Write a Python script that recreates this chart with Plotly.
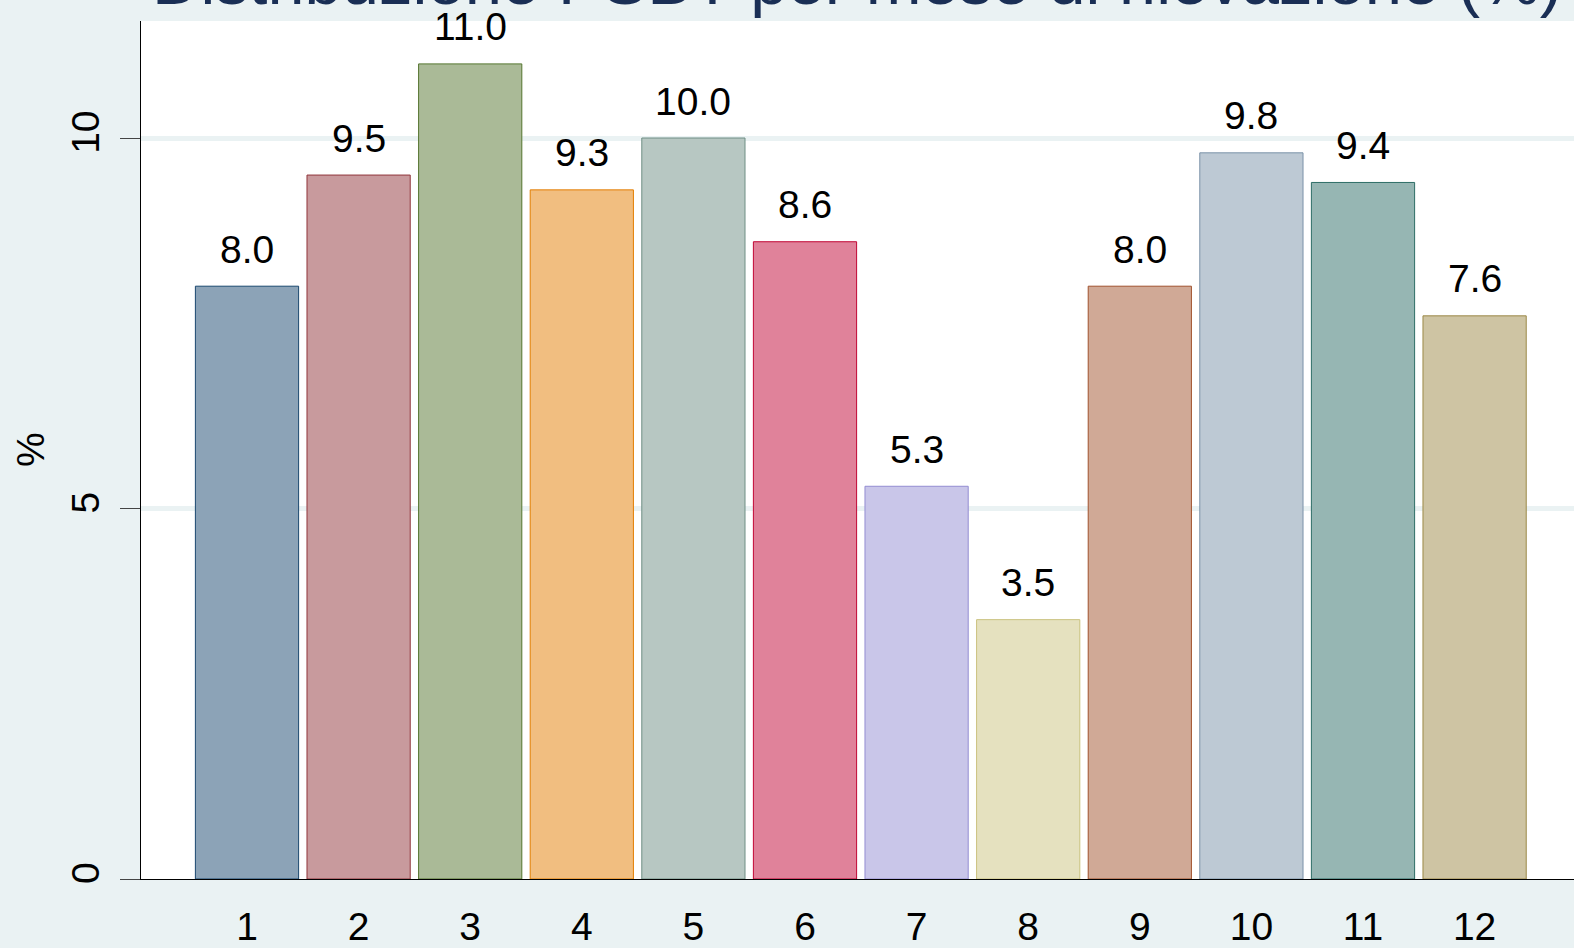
import plotly.graph_objects as go

# Monthly distribution (%)
months = [1, 2, 3, 4, 5, 6, 7, 8, 9, 10, 11, 12]
month_labels = ["1", "2", "3", "4", "5", "6", "7", "8", "9", "10", "11", "12"]
pct = [8.0, 9.5, 11.0, 9.3, 10.0, 8.6, 5.3, 3.5, 8.0, 9.8, 9.4, 7.6]
y_ticks = [0, 5, 10]

title_text = "Distribuzione PSBT per mese di rilevazione (%)"

# Stata s2color palette: full colours for outlines, 50% intensity fills
line_colors = [
    "rgb(26,71,111)", "rgb(144,53,59)", "rgb(85,117,47)", "rgb(227,126,0)",
    "rgb(110,142,132)", "rgb(193,5,52)", "rgb(147,141,210)", "rgb(202,194,126)",
    "rgb(160,82,45)", "rgb(123,146,168)", "rgb(45,109,102)", "rgb(156,136,71)",
]
fill_colors = [
    "rgb(140,163,183)", "rgb(200,154,157)", "rgb(170,186,151)", "rgb(241,190,128)",
    "rgb(183,199,194)", "rgb(224,130,154)", "rgb(201,198,233)", "rgb(229,225,191)",
    "rgb(208,169,150)", "rgb(189,201,212)", "rgb(150,182,179)", "rgb(206,196,163)",
]

BG = "#EAF2F3"
FONT = "Liberation Sans, Arial, sans-serif"

W, H = 1574, 948
ML, MR, MT, MB = 141, 0, 21, 69
plot_w = W - ML - MR
plot_h = H - MT - MB
px_per_unit_x = 111.6
px_per_unit_y = 74.1
x0 = 1 - (247 - ML) / px_per_unit_x
x1 = x0 + plot_w / px_per_unit_x
y1 = plot_h / px_per_unit_y

fig = go.Figure()
fig.add_trace(go.Bar(
    x=months,
    y=pct,
    width=0.925,
    marker=dict(color=fill_colors, line=dict(color=line_colors, width=1)),
    hoverinfo="x+y",
))

annotations = []
for m, v in zip(months, pct):
    annotations.append(dict(
        x=m, y=v, xref="x", yref="y",
        text=f"{v:.1f}", showarrow=False,
        yanchor="middle", yshift=37,
        font=dict(family=FONT, size=39, color="black"),
    ))

# y-axis title
annotations.append(dict(
    x=(30 - ML) / plot_w, y=(H - MB - 450) / plot_h,
    xref="paper", yref="paper", text="%", textangle=-90,
    showarrow=False, xanchor="center", yanchor="middle",
    font=dict(family=FONT, size=39, color="black"),
))

# chart title (mostly above the visible canvas)
annotations.append(dict(
    x=(150 - ML) / plot_w, y=1, xref="paper", yref="paper",
    text=title_text, showarrow=False, xanchor="left", yanchor="middle",
    yshift=41,
    font=dict(family=FONT, size=67, color="#1A2F55"),
))

fig.update_layout(
    width=W, height=H,
    margin=dict(l=ML, r=MR, t=MT, b=MB, pad=0, autoexpand=False),
    paper_bgcolor=BG,
    plot_bgcolor="white",
    showlegend=False,
    annotations=annotations,
    font=dict(family=FONT, size=39, color="black"),
    xaxis=dict(
        range=[x0, x1], automargin=False,
        tickmode="array", tickvals=months, ticktext=month_labels,
        ticks="", showgrid=False, zeroline=False,
        showline=True, linecolor="black", linewidth=1,
        ticklabelstandoff=13,
        tickfont=dict(family=FONT, size=39, color="black"),
    ),
    yaxis=dict(
        range=[0, y1], automargin=False,
        tickmode="array", tickvals=y_ticks, ticktext=[str(t) for t in y_ticks],
        ticks="outside", ticklen=20, tickwidth=1, tickcolor="#444",
        tickangle=-90,
        showgrid=True, gridcolor=BG, gridwidth=5,
        zeroline=False,
        showline=True, linecolor="black", linewidth=1,
        ticklabelstandoff=5,
        tickfont=dict(family=FONT, size=39, color="black"),
    ),
)

fig.write_html("out.html")
